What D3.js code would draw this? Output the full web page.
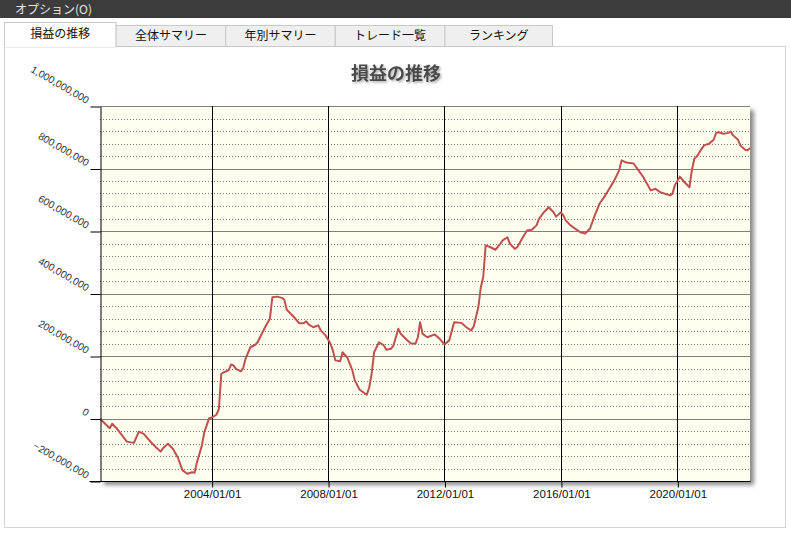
<!DOCTYPE html>
<html><head><meta charset="utf-8">
<script src="https://cdn.jsdelivr.net/npm/d3@7"></script>
<style>
body{margin:0;background:#fff;}
svg{display:block;font-family:"Liberation Sans",Arial,sans-serif;}
.jp{font-family:"Noto Sans CJK JP","Noto Sans",sans-serif;}
</style></head><body>
<script>
// ---- data ----
const menuLabel = "オプション(O)";
const tabNames = ["損益の推移","全体サマリー","年別サマリー","トレード一覧","ランキング"];
const chartTitle = "損益の推移";
const months = ["2000-03","2000-07","2000-08","2000-10","2001-02","2001-05","2001-07","2001-09","2001-12","2002-02","2002-04","2002-05","2002-07","2002-09","2002-11","2003-01","2003-03","2003-05","2003-06","2003-07","2003-09","2003-10","2003-12","2004-01","2004-03","2004-04","2004-05","2004-06","2004-08","2004-09","2004-10","2004-11","2005-01","2005-02","2005-03","2005-05","2005-07","2005-08","2005-10","2005-11","2006-01","2006-02","2006-04","2006-06","2006-07","2006-08","2006-09","2006-11","2007-01","2007-03","2007-04","2007-05","2007-07","2007-09","2007-10","2007-12","2008-02","2008-03","2008-04","2008-06","2008-07","2008-09","2008-11","2008-12","2009-02","2009-05","2009-06","2009-07","2009-08","2009-10","2009-12","2010-01","2010-03","2010-04","2010-06","2010-07","2010-09","2010-11","2011-01","2011-02","2011-03","2011-04","2011-06","2011-09","2011-11","2012-01","2012-03","2012-05","2012-08","2012-10","2012-12","2013-01","2013-03","2013-04","2013-05","2013-06","2013-08","2013-10","2013-12","2014-01","2014-03","2014-04","2014-06","2014-07","2014-09","2014-11","2015-01","2015-03","2015-04","2015-06","2015-08","2015-10","2015-11","2016-01","2016-02","2016-03","2016-05","2016-07","2016-09","2016-11","2017-01","2017-03","2017-05","2017-07","2017-09","2017-11","2018-01","2018-02","2018-04","2018-07","2018-09","2018-11","2019-02","2019-04","2019-06","2019-10","2019-11","2019-12","2020-02","2020-04","2020-06","2020-07","2020-08","2020-09","2020-11","2020-12","2021-02","2021-04","2021-05","2021-06","2021-08","2021-10","2021-11","2021-12","2022-02","2022-03","2022-05","2022-06","2022-07"];
const pnlMillions = [-1,-31,-17,-33,-74,-78,-42,-49,-76,-92,-106,-95,-81,-97,-124,-166,-177,-172,-174,-140,-86,-44,1,3,12,31,143,148,154,173,170,159,151,162,191,228,236,244,276,292,319,388,390,386,380,348,340,324,305,305,311,301,292,298,282,266,239,218,186,183,212,194,154,122,92,76,100,143,212,244,234,220,223,234,287,271,255,241,239,260,308,271,260,269,255,237,250,308,306,292,282,294,356,420,452,554,548,540,559,570,580,559,543,548,575,602,604,618,639,660,676,660,646,660,650,634,618,607,596,592,608,650,688,710,736,762,794,826,819,816,794,772,730,735,724,714,719,746,774,756,740,794,831,838,863,874,879,892,913,916,911,914,918,906,892,874,860,858,866];
const yMajorTicks = [-200e6,0,200e6,400e6,600e6,800e6,1000e6];
const yMinorStep = 40e6;
const xTickDates = ["2004-01-01","2008-01-01","2012-01-01","2016-01-01","2020-01-01"];

// ---- setup ----
const W = 791, H = 533;
const svg = d3.select("body").append("svg").attr("width", W).attr("height", H);
const defs = svg.append("defs");
defs.append("filter").attr("id","blur").attr("x","-10%").attr("y","-10%").attr("width","120%").attr("height","120%")
  .append("feGaussianBlur").attr("stdDeviation", 2);
const tf = defs.append("filter").attr("id","tshadow").attr("x","-10%").attr("y","-30%").attr("width","130%").attr("height","160%");
tf.append("feDropShadow").attr("dx",1.5).attr("dy",1.5).attr("stdDeviation",1).attr("flood-color","#999").attr("flood-opacity",0.8);

// top menu bar
svg.append("rect").attr("x",0).attr("y",0).attr("width",W).attr("height",18).attr("fill","#3c3c3c");
svg.append("text").attr("class","jp").attr("x",15).attr("y",13.5).attr("font-size",12).attr("fill","#e6e6e6").text(menuLabel);

// panel
svg.append("rect").attr("x",4.5).attr("y",46.5).attr("width",781).attr("height",481)
  .attr("fill","#fff").attr("stroke","#d4d4d4");

// tabs
const tabX = d3.scaleLinear().domain([0, tabNames.length]).range([4.5, 552.5]);
tabNames.forEach((name, i) => {
  const active = i === 0;
  const x0 = i === 0 ? 4.5 : tabX(i) + 2, x1 = i === 0 ? tabX(1) + 2 : tabX(i+1) + (i === tabNames.length - 1 ? 0 : 2);
  const y0 = active ? 22.5 : 25.5;
  svg.append("rect").attr("x",x0).attr("y",y0).attr("width",x1-x0).attr("height",(active?47:46.5)-y0)
    .attr("fill", active ? "#fff" : "#efefef").attr("stroke","#c9c9c9");
  if (active) svg.append("line").attr("x1",x0+0.5).attr("x2",x1-0.5).attr("y1",46.5).attr("y2",46.5).attr("stroke","#fff").attr("stroke-width",1.5);
  svg.append("text").attr("class","jp").attr("x",(x0+x1)/2).attr("y", active ? 38 : 40)
    .attr("text-anchor","middle").attr("font-size",12).attr("fill","#111").text(name);
});

// title
svg.append("text").attr("class","jp").attr("x",396).attr("y",80).attr("text-anchor","middle")
  .attr("font-size",18).attr("font-weight","bold").attr("fill","#4a4a4a").attr("filter","url(#tshadow)").text(chartTitle);

// plot geometry
const L = 100, R = 750, T = 106, B = 481;
const parseM = d3.timeParse("%Y-%m");
const parseD = d3.timeParse("%Y-%m-%d");
const data = months.map((m, i) => ({date: parseM(m), value: pnlMillions[i] * 1e6}));
const x = d3.scaleTime().domain(d3.extent(data, d => d.date)).range([L, R]);
const y = d3.scaleLinear().domain([-200e6, 1000e6]).range([B, T]);

// shadow + background
svg.append("rect").attr("x",L+4).attr("y",T+4).attr("width",R-L).attr("height",B-T)
  .attr("fill","#8a8a8a").attr("filter","url(#blur)");
svg.append("rect").attr("x",L).attr("y",T).attr("width",R-L).attr("height",B-T).attr("fill","#fffff0");

// minor dotted gridlines
const minor = d3.range(-200e6, 1000e6 + 1, yMinorStep).filter(v => !yMajorTicks.includes(v));
svg.append("g").selectAll("line").data(minor).join("line")
  .attr("x1",L).attr("x2",R).attr("y1",d => Math.round(y(d))+0.5).attr("y2",d => Math.round(y(d))+0.5)
  .attr("stroke","#777").attr("stroke-dasharray","1,2");
// major gridlines
svg.append("g").selectAll("line").data(yMajorTicks).join("line")
  .attr("x1",L).attr("x2",R).attr("y1",d => Math.round(y(d))+0.5).attr("y2",d => Math.round(y(d))+0.5)
  .attr("stroke","#808080");
// vertical grid (year)
const xt = xTickDates.map(parseD);
svg.append("g").selectAll("line").data(xt).join("line")
  .attr("x1",d => Math.round(x(d))+0.5).attr("x2",d => Math.round(x(d))+0.5).attr("y1",T).attr("y2",B)
  .attr("stroke","#000");

// line
svg.append("path").datum(data)
  .attr("d", d3.line().x(d => x(d.date)).y(d => y(d.value)))
  .attr("fill","none").attr("stroke","#c0504d").attr("stroke-width",2).attr("stroke-linejoin","round");

// y axis
const yAxis = svg.append("g").attr("transform",`translate(${L+0.5},0.5)`)
  .call(d3.axisLeft(y).tickValues(yMajorTicks).tickSize(10).tickSizeOuter(0).tickFormat(d3.format(",")));
yAxis.select(".domain").attr("stroke","#000");
yAxis.selectAll(".tick line").attr("stroke","#000");
yAxis.selectAll(".tick text")
  .attr("x",null).attr("dy",null)
  .attr("text-anchor","end").attr("font-size",10.2).attr("fill","#333")
  .attr("transform","translate(-14,-3) rotate(30)");

// x axis
const xAxis = svg.append("g").attr("transform",`translate(0.5,${B+0.5})`)
  .call(d3.axisBottom(x).tickValues(xt).tickSize(6).tickSizeOuter(0).tickFormat(d3.timeFormat("%Y/%m/%d")));
xAxis.select(".domain").attr("stroke","#000").attr("d",`M${L-11},0H${R}`);
xAxis.selectAll(".tick line").attr("stroke","#000");
xAxis.selectAll(".tick text").attr("font-size",11.5).attr("fill","#111").attr("y",8).attr("dy","0.71em");
</script>
</body></html>
